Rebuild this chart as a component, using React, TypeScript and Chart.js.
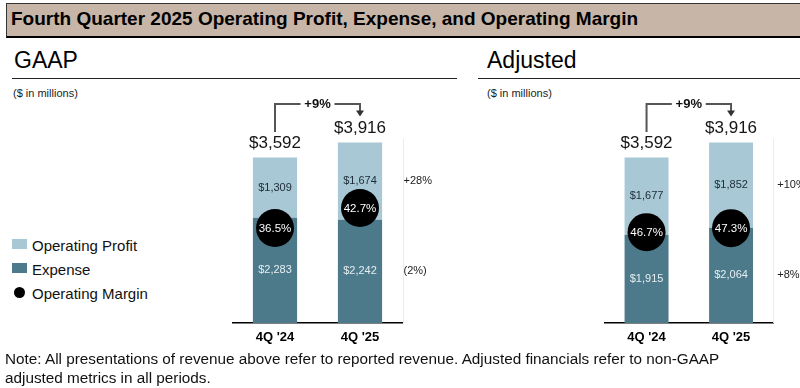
import React, { useEffect, useRef } from "react";
import { Chart, registerables } from "chart.js";

Chart.register(...registerables);

const FONT = "'Liberation Sans', Arial, Helvetica, sans-serif";

// ---- data ----
const categories = ["4Q '24", "4Q '25"];

const gaapExpense = [2283, 2242];
const gaapProfit = [1309, 1674];
const gaapMargin = [36.5, 42.7];
const gaapProfitChange = "+28%";
const gaapExpenseChange = "(2%)";

const adjExpense = [1915, 2064];
const adjProfit = [1677, 1852];
const adjMargin = [46.7, 47.3];
const adjProfitChange = "+10%";
const adjExpenseChange = "+8%";

const revenueGrowth = "+9%";

// ---- styles ----
const LIGHT = "#a9c8d5";
const DARK = "#4c7a8b";

const fmt = (v: number) => "$" + v.toLocaleString("en-US");

const annotatePlugin = {
  id: "annotate",
  afterDatasetsDraw(chart: any, _args: any, opts: any) {
    const ctx = chart.ctx as CanvasRenderingContext2D;
    const area = chart.chartArea;
    const expMeta = chart.getDatasetMeta(0);
    const proMeta = chart.getDatasetMeta(1);
    const marMeta = chart.getDatasetMeta(2);
    const exp = chart.data.datasets[0].data as number[];
    const pro = chart.data.datasets[1].data as number[];
    const mar = chart.data.datasets[2].data as number[];
    ctx.save();

    // faint right frame line
    ctx.strokeStyle = "#ececec";
    ctx.lineWidth = 1;
    ctx.beginPath();
    ctx.moveTo(Math.round(area.right) + 0.5, area.top);
    ctx.lineTo(Math.round(area.right) + 0.5, area.bottom);
    ctx.stroke();

    ctx.textAlign = "center";
    ctx.textBaseline = "middle";
    ctx.font = `11px ${FONT}`;

    // segment labels
    expMeta.data.forEach((bar: any, i: number) => {
      const p = bar.getProps(["x", "y", "base"], true);
      ctx.fillStyle = "#e6eef2";
      ctx.fillText(fmt(exp[i]), p.x, (p.y + p.base) / 2);
    });
    proMeta.data.forEach((bar: any, i: number) => {
      const p = bar.getProps(["x", "y", "base"], true);
      ctx.fillStyle = "#1b2b38";
      ctx.fillText(fmt(pro[i]), p.x, (p.y + p.base) / 2);
    });

    // margin labels
    ctx.font = `11.5px ${FONT}`;
    marMeta.data.forEach((pt: any, i: number) => {
      const p = pt.getProps(["x", "y"], true);
      ctx.fillStyle = "#ffffff";
      ctx.fillText(mar[i].toFixed(1) + "%", p.x, p.y + 0.5);
    });

    // totals
    ctx.font = `17px ${FONT}`;
    ctx.fillStyle = "#151515";
    const tops: { x: number; y: number }[] = [];
    proMeta.data.forEach((bar: any, i: number) => {
      const p = bar.getProps(["x", "y"], true);
      tops.push({ x: p.x, y: p.y });
      ctx.fillText(fmt(exp[i] + pro[i]), p.x, p.y - 14.5);
    });

    // growth bracket
    if (tops.length === 2) {
      const [a, b] = tops;
      const yLine = b.y - 38.5;
      const mid = (a.x + b.x) / 2;
      ctx.strokeStyle = "#555555";
      ctx.lineWidth = 2;
      ctx.beginPath();
      ctx.moveTo(a.x, a.y - 25.5);
      ctx.lineTo(a.x, yLine);
      ctx.lineTo(mid - 17, yLine);
      ctx.moveTo(mid + 17, yLine);
      ctx.lineTo(b.x, yLine);
      ctx.lineTo(b.x, b.y - 31);
      ctx.stroke();
      ctx.fillStyle = "#333333";
      ctx.beginPath();
      ctx.moveTo(b.x - 4, b.y - 32);
      ctx.lineTo(b.x + 4, b.y - 32);
      ctx.lineTo(b.x, b.y - 26);
      ctx.closePath();
      ctx.fill();
      ctx.font = `bold 13px ${FONT}`;
      ctx.fillStyle = "#111111";
      ctx.fillText(opts.growth, mid, yLine);
    }

    // change labels at right
    const lastExp = expMeta.data[expMeta.data.length - 1].getProps(["y", "base"], true);
    const lastPro = proMeta.data[proMeta.data.length - 1].getProps(["y", "base"], true);
    ctx.textAlign = "left";
    ctx.font = `11px ${FONT}`;
    ctx.fillStyle = "#222222";
    ctx.fillText(opts.profitChange, area.right + opts.labelOffset, (lastPro.y + lastPro.base) / 2);
    ctx.fillText(opts.expenseChange, area.right + opts.labelOffset, (lastExp.y + lastExp.base) / 2);

    ctx.restore();
  },
};

type PanelProps = {
  expense: number[];
  profit: number[];
  margin: number[];
  profitChange: string;
  expenseChange: string;
  left: number;
  width: number;
  padLeft: number;
  padRight: number;
  marginMin: number;
  marginMax: number;
  labelOffset: number;
};

const CANVAS_TOP = 95;
const CANVAS_H = 260;

function Panel(props: PanelProps) {
  const ref = useRef<HTMLCanvasElement | null>(null);
  useEffect(() => {
    if (!ref.current) return;
    const chart = new Chart(ref.current, {
      type: "bar",
      data: {
        labels: categories,
        datasets: [
          {
            label: "Expense",
            data: props.expense,
            backgroundColor: DARK,
            stack: "s",
            order: 1,
            categoryPercentage: 1,
            barPercentage: 0.52,
          } as any,
          {
            label: "Operating Profit",
            data: props.profit,
            backgroundColor: LIGHT,
            stack: "s",
            order: 1,
            categoryPercentage: 1,
            barPercentage: 0.52,
          } as any,
          {
            type: "line",
            label: "Operating Margin",
            data: props.margin,
            yAxisID: "y2",
            showLine: false,
            pointRadius: 19,
            pointHoverRadius: 19,
            pointBackgroundColor: "#000000",
            pointBorderColor: "#000000",
            pointBorderWidth: 0,
            order: 0,
          } as any,
        ],
      },
      options: {
        animation: false,
        responsive: false,
        maintainAspectRatio: false,
        events: [],
        layout: {
          padding: { left: props.padLeft, right: props.padRight, top: 43.7, bottom: 2.5 },
        },
        plugins: {
          legend: { display: false },
          tooltip: { enabled: false },
          annotate: {
            growth: revenueGrowth,
            profitChange: props.profitChange,
            expenseChange: props.expenseChange,
            labelOffset: props.labelOffset,
          },
        } as any,
        scales: {
          x: {
            stacked: true,
            grid: { display: false, drawTicks: false },
            border: { display: true, color: "#000000", width: 1.5 },
            ticks: { color: "#000000", padding: 7, font: { family: FONT, size: 13, weight: "bold" } },
          },
          y: { stacked: true, display: false, min: 0, max: 4000 },
          y2: { display: false, min: props.marginMin, max: props.marginMax },
        },
      } as any,
      plugins: [annotatePlugin as any],
    });
    return () => chart.destroy();
  }, []);
  return (
    <canvas
      ref={ref}
      width={props.width}
      height={CANVAS_H}
      style={{ position: "absolute", left: props.left, top: CANVAS_TOP, width: props.width, height: CANVAS_H }}
    />
  );
}

const abs = (o: React.CSSProperties): React.CSSProperties => ({ position: "absolute", whiteSpace: "nowrap", ...o });

export default function App() {
  return (
    <div style={{ position: "absolute", left: 0, top: 0, width: 800, height: 388, overflow: "hidden", background: "#fff", fontFamily: FONT, color: "#111" }}>
      {/* title bar */}
      <div
        style={abs({
          left: 6,
          top: 3,
          width: 800,
          height: 32,
          background: "#c7b5a7",
          borderTop: "1px solid #333",
          borderLeft: "1px solid #333",
          borderBottom: "2px solid #000",
        })}
      />
      <div style={abs({ left: 11, top: 9, fontSize: 19, lineHeight: "19px", fontWeight: "bold", color: "#000" })}>
        Fourth Quarter 2025 Operating Profit, Expense, and Operating Margin
      </div>

      {/* section headings */}
      <div style={abs({ left: 14, top: 48.5, fontSize: 23, lineHeight: "23px", color: "#000" })}>GAAP</div>
      <div style={abs({ left: 12, top: 78, width: 445, height: 1, background: "#222" })} />
      <div style={abs({ left: 13, top: 87.5, fontSize: 11, lineHeight: "11px", color: "#222" })}>($ in millions)</div>

      <div style={abs({ left: 487, top: 48.5, fontSize: 23, lineHeight: "23px", color: "#000" })}>Adjusted</div>
      <div style={abs({ left: 478, top: 78, width: 322, height: 1, background: "#222" })} />
      <div style={abs({ left: 487, top: 87.5, fontSize: 11, lineHeight: "11px", color: "#222" })}>($ in millions)</div>

      {/* legend */}
      <div style={abs({ left: 12, top: 239, width: 15, height: 10, background: LIGHT })} />
      <div style={abs({ left: 32, top: 238, fontSize: 15, lineHeight: "15px", color: "#111" })}>Operating Profit</div>
      <div style={abs({ left: 12, top: 263, width: 15, height: 10, background: DARK })} />
      <div style={abs({ left: 32, top: 262, fontSize: 15, lineHeight: "15px", color: "#111" })}>Expense</div>
      <div style={abs({ left: 14, top: 287, width: 11, height: 11, borderRadius: "50%", background: "#000" })} />
      <div style={abs({ left: 32, top: 285.5, fontSize: 15, lineHeight: "15px", color: "#111" })}>Operating Margin</div>

      {/* charts */}
      <Panel
        expense={gaapExpense}
        profit={gaapProfit}
        margin={gaapMargin}
        profitChange={gaapProfitChange}
        expenseChange={gaapExpenseChange}
        left={200}
        width={260}
        padLeft={32.5}
        padRight={57.5}
        marginMin={7.1}
        marginMax={64.2}
        labelOffset={1}
      />
      <Panel
        expense={adjExpense}
        profit={adjProfit}
        margin={adjMargin}
        profitChange={adjProfitChange}
        expenseChange={adjExpenseChange}
        left={580}
        width={220}
        padLeft={24.3}
        padRight={26.7}
        marginMin={33.1}
        marginMax={60.7}
        labelOffset={4}
      />

      {/* note */}
      <div style={abs({ left: 5, top: 348.5, fontSize: 15.3, lineHeight: "19px", color: "#111", whiteSpace: "normal", width: 790 })}>
        Note: All presentations of revenue above refer to reported revenue. Adjusted financials refer to non-GAAP
        <br />
        adjusted metrics in all periods.
      </div>
    </div>
  );
}
